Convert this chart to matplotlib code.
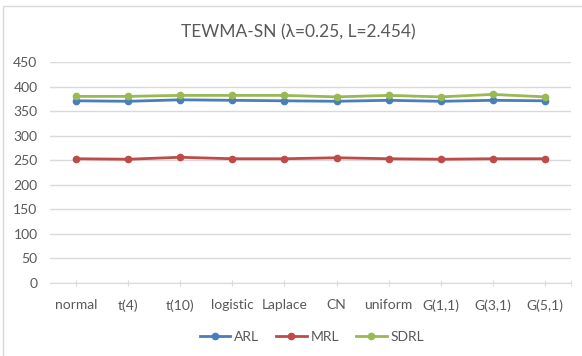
import numpy as np
import matplotlib.pyplot as plt
from matplotlib.patches import Rectangle

# distributions and run-length summaries
dists = ["normal", "t(4)", "t(10)", "logistic", "Laplace", "CN", "uniform", "G(1,1)", "G(3,1)", "G(5,1)"]
ARL = [371, 370, 373, 372, 371, 370, 372, 370, 372, 371]
MRL = [253, 252, 256, 253, 253, 255, 253, 252, 253, 253]
SDRL = [380, 380, 382, 382, 382, 379, 382, 379, 384, 379]

plt.rcParams['font.family'] = ['Lato', 'DejaVu Sans']
grey = '#595959'

fig = plt.figure(figsize=(5.82, 3.56), dpi=100)
fig.patches.append(Rectangle((3/582, -0.1), 1.1, 1 - 6/356 + 0.1, transform=fig.transFigure,
                             fill=False, edgecolor='#D9D9D9', linewidth=1))
ax = fig.add_axes([50/582, 1 - 283/356, 521/582, 221/356])

x = np.arange(len(dists))
ax.plot(x, ARL, color='#4A7EBB', marker='o', markersize=4.5, linewidth=2, label='ARL')
ax.plot(x, MRL, color='#BE4B48', marker='o', markersize=4.5, linewidth=2, label='MRL')
ax.plot(x, SDRL, color='#98B954', marker='o', markersize=4.5, linewidth=2, label='SDRL')

ax.set_xlim(-0.5, len(dists) - 0.5)
ax.set_ylim(0, 450)
ax.set_yticks(np.arange(0, 451, 50))
ax.set_xticks(x)
ax.set_xticklabels(dists)
ax.set_xticks([len(dists) - 0.5], minor=True)
ax.grid(axis='y', color='#D9D9D9', linewidth=1)
ax.set_axisbelow(True)
for s in ['top', 'right', 'left']:
    ax.spines[s].set_visible(False)
ax.spines['bottom'].set_color('#D9D9D9')
ax.tick_params(axis='y', length=0, labelsize=10, labelcolor=grey, pad=9)
ax.tick_params(axis='x', which='both', direction='inout', length=5, color='#D9D9D9',
               labelsize=10, labelcolor=grey, pad=9)

fig.text(298/582, 1 - 32/356, 'TEWMA-SN (λ=0.25, L=2.454)', ha='center', va='center',
         fontsize=12.5, color=grey)
fig.legend(loc='center', bbox_to_anchor=(312/582, 1 - 337/356), ncol=3, frameon=False,
           fontsize=10, labelcolor=grey, handlelength=2.2, handletextpad=0.3, columnspacing=1.2)

fig.savefig('out.png', dpi=100)
